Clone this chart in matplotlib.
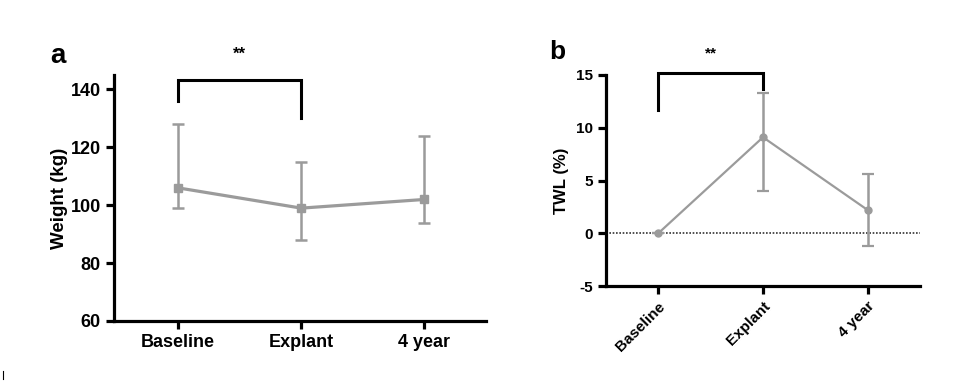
import matplotlib
matplotlib.use("Agg")
import matplotlib.pyplot as plt
from matplotlib.lines import Line2D

plt.rcParams['font.family'] = ['Liberation Sans', 'DejaVu Sans']
plt.rcParams['font.weight'] = 'bold'
plt.rcParams['axes.unicode_minus'] = False

cats = ["Baseline", "Explant", "4 year"]

# panel a: weight
w_mean = [106, 99, 102]
w_hi = [128, 115, 124]
w_lo = [99, 88, 94]

# panel b: TWL
t_mean = [0, 9.1, 2.2]
t_hi = [0, 13.3, 5.6]
t_lo = [0, 4.0, -1.2]

GREY = "#9b9b9b"
W, H = 975, 381
fig = plt.figure(figsize=(W / 100, H / 100), dpi=100)

def box(l, r, t, b):
    return [l / W, 1 - b / H, (r - l) / W, (b - t) / H]

def style(ax, fs):
    for s in ("top", "right"):
        ax.spines[s].set_visible(False)
    for s in ("left", "bottom"):
        ax.spines[s].set_linewidth(2.3)
    ax.tick_params(width=2.3, length=6, labelsize=fs)
    for lab in ax.get_xticklabels() + ax.get_yticklabels():
        lab.set_fontweight("bold")

x = list(range(len(cats)))

# ---- a
ax = fig.add_axes(box(114, 486, 75, 321))
ax.errorbar(x, w_mean,
            yerr=[[m - l for m, l in zip(w_mean, w_lo)], [h - m for m, h in zip(w_mean, w_hi)]],
            color=GREY, lw=2.3, marker="s", ms=6, elinewidth=1.8, capsize=4, capthick=1.8)
ax.set_xlim(-0.52, 2.5)
ax.set_ylim(60, 145)
ax.set_yticks([60, 80, 100, 120, 140])
ax.set_xticks(x, cats)
ax.set_ylabel("Weight (kg)", fontsize=13.5, fontweight="bold", labelpad=2)
style(ax, 13)
ax.plot([0, 0, 1, 1], [135.9, 143.4, 143.4, 130.3], color="black", lw=2.2,
        clip_on=False, solid_joinstyle="miter")
ax.text(0.5, 152.3, "**", ha="center", va="center", fontsize=12, fontweight="bold")
fig.text(50 / W, 1 - 56 / H, "a", fontsize=20, fontweight="bold", ha="left", va="center")

# ---- b
bx = fig.add_axes(box(606, 920, 75, 286))
bx.axhline(0, color="#333333", lw=1.2, ls=(0, (1.0, 1.0)), zorder=1)
bx.errorbar(x, t_mean,
            yerr=[[m - l for m, l in zip(t_mean, t_lo)], [h - m for m, h in zip(t_mean, t_hi)]],
            color=GREY, lw=1.6, marker="o", ms=5, elinewidth=1.8, capsize=4, capthick=1.6, zorder=3)
bx.set_xlim(-0.5, 2.5)
bx.set_ylim(-5, 15)
bx.set_yticks([-5, 0, 5, 10, 15])
bx.set_xticks(x, cats)
bx.set_ylabel("TWL (%)", fontsize=12, fontweight="bold", labelpad=5)
style(bx, 11)
for lab in bx.get_xticklabels():
    lab.set_rotation(45)
    lab.set_ha("right")
    lab.set_rotation_mode("anchor")
bx.plot([0, 0, 1, 1], [11.7, 15.2, 15.2, 13.7], color="black", lw=2.2,
        clip_on=False, solid_joinstyle="miter")
bx.text(0.5, 17.0, "**", ha="center", va="center", fontsize=11, fontweight="bold")
fig.text(549 / W, 1 - 52 / H, "b", fontsize=19, fontweight="bold", ha="left", va="center")

fig.add_artist(Line2D([3 / W, 3 / W], [1 - 371 / H, 1 - 379 / H], color="black", lw=0.8))

fig.savefig("out.png", dpi=100)
